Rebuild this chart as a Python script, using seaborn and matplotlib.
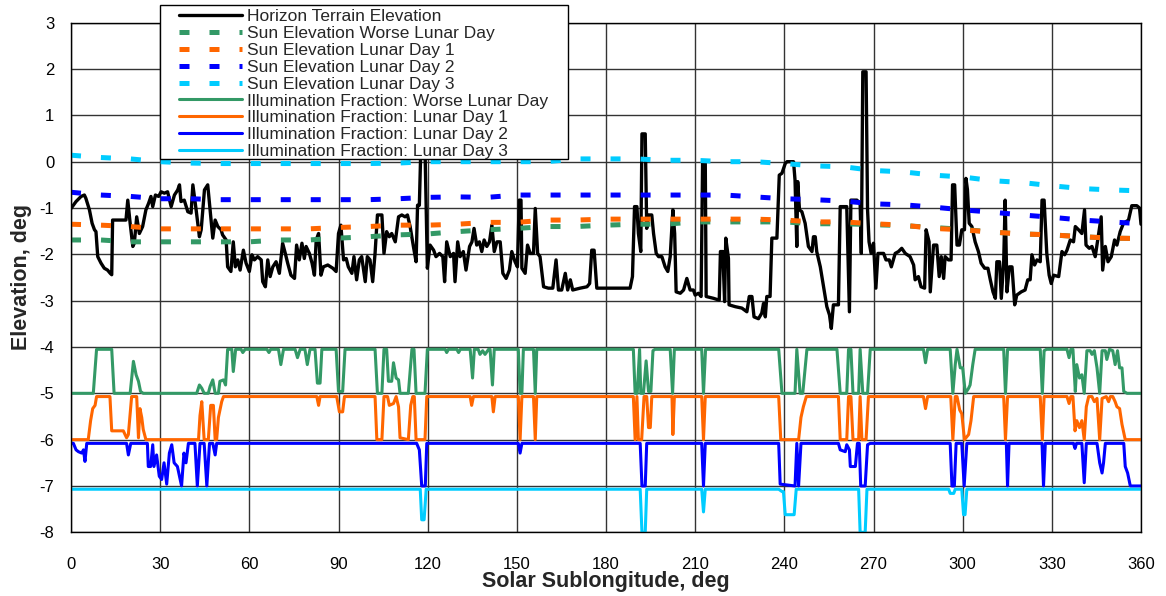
import matplotlib
matplotlib.use("Agg")
import matplotlib.pyplot as plt
from matplotlib.patches import Rectangle
import seaborn as sns
import numpy as np

sns.set_theme(style="white")
plt.rcParams['font.family'] = ['Liberation Sans', 'DejaVu Sans']
plt.rcParams['axes.unicode_minus'] = False

# ---------------- data ----------------
sun_lon = list(range(0, 361, 10))
sun_worse = [-1.69, -1.69, -1.73, -1.73, -1.73, -1.73, -1.73, -1.69, -1.69, -1.65, -1.62, -1.58,
             -1.56, -1.51, -1.47, -1.44, -1.40, -1.40, -1.37, -1.35, -1.35, -1.30, -1.30, -1.30,
             -1.30, -1.34, -1.34, -1.36, -1.38, -1.42, -1.46, -1.52, -1.56, -1.58, -1.62, -1.65, -1.66]
sun_day1 = [-1.35, -1.37, -1.40, -1.45, -1.45, -1.45, -1.45, -1.45, -1.45, -1.42, -1.40, -1.37,
            -1.37, -1.35, -1.31, -1.31, -1.26, -1.26, -1.24, -1.24, -1.24, -1.24, -1.24, -1.24,
            -1.26, -1.30, -1.30, -1.34, -1.37, -1.44, -1.47, -1.52, -1.56, -1.58, -1.62, -1.65, -1.66]
sun_day2 = [-0.66, -0.72, -0.75, -0.80, -0.80, -0.82, -0.82, -0.82, -0.82, -0.82, -0.82, -0.80,
            -0.77, -0.76, -0.77, -0.72, -0.72, -0.72, -0.72, -0.72, -0.72, -0.72, -0.72, -0.76,
            -0.80, -0.82, -0.85, -0.91, -0.93, -0.98, -1.04, -1.09, -1.15, -1.20, -1.26, -1.30, -1.34]
sun_day3 = [0.14, 0.09, 0.06, 0.00, -0.03, -0.04, -0.04, -0.04, -0.04, -0.04, -0.04, -0.03,
            0.00, 0.00, 0.00, 0.00, 0.00, 0.06, 0.06, 0.06, 0.03, 0.03, 0.00, 0.00,
            -0.04, -0.09, -0.11, -0.19, -0.22, -0.29, -0.33, -0.41, -0.45, -0.52, -0.58, -0.61, -0.63]

terrain_lon = [0, 1.7, 3.4, 4.5, 5.0, 6.2, 7.1, 7.9, 8.4, 9.0, 10.1, 11.2, 12.3, 13.2, 13.7, 14.0,
               18.5, 19.1, 19.9, 20.8, 21.3, 22.1, 23.0, 24.1, 25.2, 26.1, 26.9, 27.5, 28.4, 29.5,
               30.3, 31.4, 32.5, 33.7, 34.8, 35.9, 36.5, 37.0, 38.1, 39.3, 40.4, 41.0, 42.1, 43.2,
               43.8, 44.9, 46.0, 46.8, 47.7, 48.5, 49.4, 50.5, 51.0, 52.2, 52.7, 53.8, 54.6, 55.3,
               56.1, 56.9, 58.0, 58.9, 60.0, 60.9, 61.7, 62.8, 64.0, 64.5, 65.4, 66.2, 67.0, 67.9,
               69.0, 70.1, 71.2, 72.1, 72.9, 74.0, 75.2, 75.9, 76.8, 77.7, 78.5, 79.1, 80.2, 81.1,
               81.9, 82.5, 83.3, 84.1, 84.9, 86.4, 88.1, 89.2, 90.0, 90.8, 91.7, 92.6, 93.3, 94.5,
               95.2, 96.1, 97.0, 97.8, 99.0, 99.7, 100.6, 101.5, 102.3, 103.1, 104.6, 105.3, 106.2,
               107.1, 107.9, 109.1, 110.2, 111.3, 112.4, 113.2, 114.1, 115.2, 116.1, 116.6, 117.2,
               117.7, 119.1, 119.9, 120.8, 122.0, 122.8, 124.0, 125.1, 125.7, 126.4, 127.6, 128.7,
               129.2, 130.1, 130.9, 132.0, 132.9, 134.1, 134.9, 135.6, 136.5, 137.4, 138.2, 139.0,
               139.9, 140.8, 141.6, 142.4, 143.3, 144.4, 145.3, 146.4, 147.5, 148.3, 149.4, 150.2,
               150.8, 151.4, 151.7, 152.8, 153.6, 154.5, 155.6, 156.2, 157.0, 157.8, 159.0, 160.6,
               162.1, 163.2, 164.0, 165.1, 166.3, 167.1, 168.0, 168.8, 171.3, 173.6, 174.5, 175.2,
               176.0, 176.9, 188.1, 188.9, 189.6, 190.4, 190.9, 191.7, 192.1, 193.2, 193.7, 194.3,
               195.4, 196.0, 196.9, 197.7, 198.8, 199.9, 200.8, 201.6, 202.5, 203.1, 203.6, 205.0,
               206.1, 207.2, 208.3, 209.4, 210.0, 211.1, 212.0, 212.5, 213.4, 213.7, 216.2, 218.1,
               218.5, 219.3, 219.9, 220.3, 221.2, 221.4, 223.5, 225.7, 227.4, 228.2, 229.1, 229.8,
               231.3, 232.4, 233.0, 233.6, 234.1, 235.2, 235.8, 237.5, 238.3, 239.2, 240.3, 240.9,
               243.1, 243.6, 244.2, 244.5, 245.1, 245.9, 247.0, 248.1, 249.3, 249.8, 250.4, 250.9,
               252.1, 253.2, 254.3, 255.2, 255.8, 256.5, 258.2, 258.8, 261.0, 261.9, 262.4, 264.4,
               265.5, 265.9, 266.4, 267.5, 268.0, 268.5, 269.2, 270.0, 270.8, 271.5, 273.4, 274.2,
               275.3, 276.0, 277.3, 278.4, 279.5, 280.7, 282.3, 283.5, 284.0, 285.1, 286.0, 287.2,
               287.7, 288.7, 289.1, 290.2, 291.3, 292.1, 292.8, 293.6, 294.1, 295.2, 296.1, 296.6,
               297.3, 298.1, 298.9, 299.7, 300.6, 301.1, 301.6, 302.2, 303.1, 304.2, 305.3, 306.2,
               307.4, 308.5, 309.3, 310.2, 311.0, 311.5, 312.4, 313.0, 313.8, 314.3, 314.9, 315.7,
               316.6, 317.5, 318.2, 319.7, 321.0, 321.9, 322.7, 323.3, 324.2, 325.0, 326.1, 326.7,
               327.4, 328.3, 329.1, 329.8, 330.6, 332.3, 333.4, 334.3, 335.1, 336.2, 337.3, 337.9,
               339.0, 340.1, 341.0, 341.5, 342.6, 343.5, 344.6, 345.7, 346.6, 347.1, 348.0, 348.9,
               350.0, 351.1, 351.9, 353.0, 354.1, 355.8, 356.9, 358.6, 359.5, 360.0]
terrain_elev = [-1.01, -0.86, -0.75, -0.72, -0.79, -1.04, -1.33, -1.47, -1.51, -2.05, -2.19, -2.30,
                -2.34, -2.41, -2.44, -1.26, -1.26, -0.83, -1.33, -1.83, -1.76, -1.19, -1.55, -1.40,
                -1.04, -0.90, -0.75, -0.97, -0.72, -0.75, -0.65, -0.68, -0.65, -0.97, -0.72, -0.61,
                -0.50, -0.86, -0.83, -1.08, -1.11, -0.50, -1.04, -1.62, -1.47, -0.61, -0.50, -1.04,
                -1.65, -1.26, -1.40, -1.47, -1.58, -1.69, -2.27, -2.37, -1.73, -2.27, -2.12, -2.34,
                -1.91, -2.19, -2.37, -2.01, -2.12, -2.05, -2.12, -2.59, -2.70, -2.12, -2.48, -2.27,
                -2.16, -2.41, -1.76, -1.98, -2.19, -2.45, -2.52, -1.80, -2.12, -1.76, -2.09, -1.83,
                -1.98, -2.19, -2.45, -1.69, -1.55, -2.45, -2.27, -2.23, -2.30, -2.37, -1.55, -1.37,
                -2.12, -2.09, -2.27, -2.41, -2.05, -2.55, -2.12, -2.05, -2.59, -2.05, -2.12, -2.59,
                -1.98, -1.15, -1.15, -1.98, -1.51, -1.62, -1.55, -1.73, -1.19, -1.15, -1.19, -1.15,
                -1.40, -1.83, -2.16, -0.94, -0.94, 0.30, 0.30, -2.30, -1.80, -1.91, -2.05, -1.98,
                -2.05, -2.59, -1.73, -2.05, -1.98, -2.59, -1.73, -2.05, -1.94, -2.34, -1.83, -1.73,
                -1.44, -1.80, -1.73, -1.94, -1.69, -1.83, -1.73, -1.37, -1.94, -1.73, -1.73, -2.41,
                -2.52, -2.34, -1.94, -2.16, -2.27, -0.83, -0.83, -2.30, -2.41, -1.80, -1.98, -1.98,
                -1.01, -1.98, -2.05, -2.70, -2.73, -2.73, -2.12, -2.77, -2.77, -2.41, -2.77, -2.55,
                -2.77, -2.73, -2.70, -2.63, -1.91, -1.91, -2.73, -2.73, -2.48, -0.97, -0.97, -1.55,
                -1.94, 0.60, 0.60, -1.44, -1.15, -1.15, -1.55, -1.98, -2.05, -2.05, -2.27, -2.37,
                -2.05, -1.04, -1.55, -2.81, -2.84, -2.77, -2.52, -2.77, -2.77, -2.88, -2.84, -2.91,
                0.00, 0.00, -2.91, -2.95, -2.99, -1.94, -1.94, -3.02, -1.65, -2.09, -3.09, -3.13,
                -3.16, -3.24, -2.91, -2.91, -3.35, -3.39, -3.27, -3.06, -3.35, -2.91, -2.91, -1.65,
                -1.65, -0.29, -0.25, -0.04, 0.00, 0.00, -0.40, -1.83, -0.43, -1.04, -1.08, -1.33,
                -1.83, -1.94, -1.62, -1.62, -1.94, -2.27, -2.70, -3.13, -3.31, -3.60, -3.09, -3.09,
                -0.97, -0.97, -3.24, -0.83, -0.83, -0.90, -1.98, 1.94, 1.94, -1.04, -1.73, -1.98,
                -1.76, -2.73, -1.98, -1.98, -2.12, -2.12, -2.27, -1.98, -1.94, -1.87, -1.98, -2.05,
                -2.23, -2.55, -2.48, -2.70, -2.73, -1.47, -1.73, -2.81, -1.80, -1.80, -2.48, -2.05,
                -2.52, -2.05, -2.12, -2.12, -0.50, -0.50, -1.80, -1.80, -1.47, -1.47, -0.36, -0.60,
                -1.33, -1.40, -1.73, -1.94, -2.19, -2.30, -2.30, -2.55, -2.81, -2.95, -2.16, -2.16,
                -2.95, -2.16, -0.83, -2.81, -2.27, -2.27, -3.09, -2.88, -2.81, -2.77, -2.55, -2.55,
                -2.01, -2.23, -2.12, -2.16, -0.83, -0.83, -1.98, -2.45, -2.63, -2.45, -2.48, -1.94,
                -2.01, -1.91, -1.69, -1.73, -1.40, -1.47, -1.55, -1.04, -1.80, -1.87, -1.83, -2.05,
                -1.58, -1.19, -2.34, -1.83, -2.16, -2.05, -1.69, -1.80, -1.51, -1.33, -1.26, -0.95,
                -0.95, -1.00, -1.35]

# illumination fractions (plotted offset below the elevation curves)
illum_offsets = [-5, -6, -7, -8]

illum_worse_lon = [0, 7.5, 8.6, 13.7, 14.5, 19.9, 21.0, 21.9, 22.7, 23.4, 24.3, 42.3, 43.2, 44.0,
                   44.8, 46.2, 46.8, 47.7, 48.5, 49.6, 50.1, 51.3, 52.0, 52.7, 54.1, 54.6, 55.4,
                   57.2, 57.8, 58.6, 65.9, 66.6, 67.2, 69.8, 70.6, 71.5, 75.4, 76.2, 77.1, 78.7,
                   79.5, 80.4, 82.1, 82.9, 83.8, 84.4, 89.2, 90.0, 91.4, 92.2, 102.3, 103.1, 104.6,
                   105.3, 106.2, 106.8, 107.9, 108.5, 109.4, 110.2, 110.7, 113.5, 114.7, 115.4,
                   116.1, 119.1, 119.9, 125.9, 126.4, 127.0, 129.8, 130.4, 131.0, 134.3, 135.1,
                   135.7, 137.0, 137.6, 138.5, 139.3, 140.5, 141.0, 141.8, 142.4, 150.5, 151.1,
                   151.7, 152.2, 155.6, 156.2, 156.7, 189.2, 189.8, 190.5, 191.3, 191.7, 192.6,
                   193.5, 194.3, 195.1, 195.8, 196.5, 201.6, 202.4, 203.0, 212.2, 212.8, 213.5,
                   238.1, 239.2, 243.6, 244.2, 245.3, 246.2, 247.6, 257.7, 258.8, 261.0, 261.6,
                   262.4, 263.1, 265.0, 265.5, 266.4, 268.0, 268.9, 286.8, 287.5, 288.2, 295.8,
                   296.7, 297.5, 298.1, 299.2, 300.0, 300.9, 302.0, 302.5, 303.4, 304.2, 313.8,
                   314.4, 315.1, 326.1, 326.8, 327.4, 328.2, 335.1, 335.8, 336.4, 337.1, 337.9,
                   338.4, 339.3, 340.1, 340.9, 341.8, 342.9, 343.5, 344.3, 345.2, 346.1, 346.9,
                   348.0, 348.5, 349.4, 350.5, 351.3, 352.1, 352.8, 353.6, 354.2, 355.3, 360.0]
illum_worse = [0, 0, 0.95, 0.95, 0, 0, 0.69, 0.40, 0.26, 0.04, 0, 0, 0.18, 0.11,
               0, 0, 0.15, 0.29, 0, 0, 0.26, 0.29, 0.18, 0.95, 0.95, 0.47, 0.95,
               0.95, 0.88, 0.95, 0.95, 0.88, 0.95, 0.95, 0.62, 0.95, 0.95, 0.77, 0.95, 0.95,
               0.62, 0.95, 0.95, 0.22, 0.22, 0.95, 0.95, 0.04, 0.04, 0.95, 0.95, 0, 0,
               0.95, 0.95, 0.26, 0.26, 0.66, 0.33, 0.29, 0, 0, 0.95, 0.95,
               0, 0, 0.95, 0.95, 0.88, 0.95, 0.95, 0.88, 0.95, 0.95, 0.33,
               0.95, 0.95, 0.84, 0.92, 0.84, 0.95, 0.95, 0.18, 0.95, 0.95, 0,
               0, 0.95, 0.95, 0, 0.95, 0.95, 0, 0, 0.95, 0, 0,
               0.70, 0.04, 0.04, 0.92, 0.95, 0.95, 0, 0.95, 0.95, 0, 0.95,
               0.95, 0, 0, 0.95, 0, 0, 0.95, 0.95, 0, 0, 0.95,
               0.95, 0, 0, 0.95, 0, 0, 0.95, 0.95, 0.66, 0.95, 0.95,
               0, 0.62, 0.95, 0.55, 0.55, 0, 0.11, 0.18, 0.62, 0.95, 0.95,
               0, 0.95, 0.95, 0, 0.92, 0.95, 0.95, 0.77, 0.95, 0.95, 0.04,
               0.62, 0.33, 0.40, 0, 0.92, 0.92, 0.84, 0.92, 0.55, 0, 0.92,
               0.92, 0.73, 0.95, 0.92, 0.62, 0.92, 0.55, 0.55, 0.04, 0, 0]

illum_day1_lon = [0, 5.8, 6.6, 7.3, 8.1, 8.6, 13.1, 13.7, 17.6, 18.7, 19.3, 20.4, 22.1, 22.7, 23.2,
                  23.8, 24.3, 25.2, 42.9, 43.4, 44.0, 44.8, 46.2, 47.0, 47.9, 48.5, 49.0, 49.6,
                  50.7, 51.3, 82.7, 83.3, 83.8, 89.4, 90.3, 91.4, 92.0, 102.3, 102.9, 104.6, 105.3,
                  106.5, 107.1, 108.5, 109.4, 110.2, 110.7, 113.5, 114.3, 115.0, 115.5, 116.1,
                  119.1, 119.7, 134.3, 134.8, 135.4, 141.6, 142.1, 142.7, 150.5, 151.1, 151.7,
                  155.6, 156.2, 156.7, 189.2, 189.8, 190.4, 190.9, 192.0, 192.8, 193.7, 194.3,
                  194.9, 195.4, 202.2, 202.5, 203.0, 212.2, 212.8, 213.4, 238.1, 238.8, 244.8,
                  245.6, 246.4, 247.4, 258.2, 258.8, 261.0, 261.6, 262.4, 263.1, 265.0, 265.5,
                  266.1, 267.5, 268.3, 286.8, 287.5, 288.2, 296.0, 296.7, 297.5, 298.1, 299.0,
                  299.7, 300.6, 302.0, 302.8, 303.7, 313.8, 314.4, 315.1, 326.1, 326.8, 327.4,
                  335.1, 335.8, 336.4, 337.1, 337.8, 338.4, 339.3, 340.1, 340.9, 341.6, 342.4,
                  343.5, 344.3, 345.2, 346.1, 346.9, 348.3, 349.1, 349.7, 350.5, 351.3, 351.9,
                  352.8, 353.6, 354.7, 360.0]
illum_day1 = [0, 0, 0.41, 0.67, 0.74, 0.93, 0.93, 0.19, 0.19, 0.04, 0.11, 0.93, 0.93, 0.04, 0.67,
              0.48, 0.22, 0, 0, 0.52, 0.82, 0, 0, 0.74, 0.74, 0, 0, 0.48,
              0.82, 0.93, 0.93, 0.74, 0.93, 0.93, 0.60, 0.60, 0.93, 0.93, 0, 0, 0.93,
              0.93, 0.74, 0.78, 0.93, 0.71, 0.04, 0, 0.74, 0.93, 0.93, 0,
              0, 0.93, 0.93, 0.74, 0.93, 0.93, 0.60, 0.93, 0.93, 0, 0.93,
              0.93, 0, 0.93, 0.93, 0, 0.93, 0, 0, 0.93, 0.93, 0.26,
              0.26, 0.93, 0.93, 0.11, 0.93, 0.93, 0, 0.93, 0.93, 0, 0,
              0.48, 0.71, 0.93, 0.93, 0, 0, 0.93, 0.93, 0, 0, 0.93,
              0, 0, 0.93, 0.93, 0.67, 0.93, 0.93, 0, 0.93, 0.93, 0.64,
              0.56, 0, 0.11, 0.41, 0.93, 0.93, 0, 0.93, 0.93, 0, 0.93,
              0.93, 0.78, 0.93, 0.93, 0.19, 0.41, 0.26, 0.41, 0, 0.71, 0.93,
              0.93, 0.82, 0.89, 0, 0.89, 0.93, 0.82, 0.93, 0.93, 0.82, 0.71,
              0.67, 0.33, 0, 0]

illum_day2_lon = [0, 0.8, 1.7, 2.5, 3.6, 4.2, 4.7, 5.3, 18.7, 19.3, 20.1, 25.7, 26.0, 26.8, 27.5,
                  27.9, 28.8, 29.7, 30.5, 31.3, 32.2, 33.1, 33.9, 34.7, 35.8, 36.5, 37.2, 38.0,
                  38.7, 39.5, 41.7, 42.5, 43.4, 44.8, 45.7, 46.6, 47.7, 48.5, 49.0, 116.3, 117.2,
                  118.0, 119.2, 119.7, 150.5, 151.1, 151.7, 191.5, 192.1, 193.2, 193.7, 212.2,
                  212.8, 213.4, 238.1, 238.6, 243.6, 244.2, 244.8, 245.6, 258.2, 258.8, 260.5,
                  261.0, 261.9, 262.2, 263.9, 264.6, 265.2, 265.7, 267.2, 268.0, 268.9, 295.8,
                  296.4, 297.2, 297.8, 299.7, 300.5, 301.4, 314.7, 315.1, 315.6, 326.7, 327.2,
                  327.8, 337.3, 337.8, 338.3, 340.1, 340.9, 341.6, 345.2, 346.1, 346.9, 347.4,
                  348.0, 354.2, 354.7, 355.5, 356.4, 360.0]
illum_day2 = [0.92, 0.92, 0.78, 0.74, 0.71, 0.78, 0.53, 0.92, 0.92, 0.67, 0.92, 0.92, 0.42, 0.42, 0.89,
              0.42, 0.67, 0.21, 0.14, 0.50, 0.04, 0.71, 0.89, 0.50, 0.42, 0.21, 0, 0.71,
              0.50, 0.92, 0.92, 0, 0.92, 0.92, 0, 0.92, 0.92, 0.67, 0.92, 0.92, 0.78,
              0, 0, 0.92, 0.92, 0.71, 0.92, 0.92, 0, 0, 0.92, 0.92,
              0, 0.92, 0.92, 0.04, 0, 0.92, 0, 0.92, 0.92, 0.78, 0.74,
              0.89, 0.78, 0.42, 0.42, 0.92, 0.92, 0, 0, 0.89, 0.92, 0.92,
              0, 0, 0.92, 0.92, 0, 0.92, 0.92, 0, 0.92, 0.92, 0,
              0.92, 0.92, 0.81, 0.92, 0.92, 0.07, 0.92, 0.92, 0.50, 0.28, 0.50,
              0.92, 0.92, 0.42, 0.28, 0, 0]

illum_day3_lon = [0, 117.5, 118.0, 118.8, 119.5, 191.5, 192.1, 193.2, 193.7, 212.2, 212.8, 213.4,
                  238.1, 239.2, 239.7, 240.3, 243.3, 244.0, 265.0, 265.5, 267.2, 267.8, 295.3,
                  295.8, 297.0, 297.5, 299.7, 300.3, 300.8, 301.4, 360.0]
illum_day3 = [0.93, 0.93, 0.27, 0.27, 0.93, 0.93, 0, 0, 0.93, 0.93, 0.44, 0.93,
              0.93, 0.88, 0.88, 0.38, 0.38, 0.93, 0.93, 0, 0, 0.93, 0.93,
              0.84, 0.84, 0.93, 0.93, 0.38, 0.38, 0.93, 0.93]

x_ticks = list(range(0, 361, 30))
y_ticks = list(range(-8, 4))

labels = ["Horizon Terrain Elevation",
          "Sun Elevation Worse Lunar Day", "Sun Elevation Lunar Day 1",
          "Sun Elevation Lunar Day 2", "Sun Elevation Lunar Day 3",
          "Illumination Fraction: Worse Lunar Day", "Illumination Fraction: Lunar Day 1",
          "Illumination Fraction: Lunar Day 2", "Illumination Fraction: Lunar Day 3"]

GREEN, ORANGE, BLUE, CYAN = "#339966", "#FF6600", "#0000FF", "#00CCFF"

# ---------------- figure ----------------
W, H = 1166, 596
fig = plt.figure(figsize=(W / 100, H / 100), dpi=100)
x0, x1, y0, y1 = 71, 1141, 22.7, 532.3
ax = fig.add_axes([x0 / W, 1 - y1 / H, (x1 - x0) / W, (y1 - y0) / H])

sns.lineplot(x=terrain_lon, y=terrain_elev, ax=ax, color="black", lw=2.4,
             estimator=None, sort=False, label=labels[0])

dash = (0, (2.0, 4.0))
for vals, col, lab in zip([sun_worse, sun_day1, sun_day2, sun_day3],
                          [GREEN, ORANGE, BLUE, CYAN], labels[1:5]):
    sns.lineplot(x=sun_lon, y=vals, ax=ax, color=col, lw=3.6, linestyle=dash,
                 estimator=None, sort=False, label=lab)

illum_lons = [illum_worse_lon, illum_day1_lon, illum_day2_lon, illum_day3_lon]
illum_vals = [illum_worse, illum_day1, illum_day2, illum_day3]
for lon, frac, off, col, lab in zip(illum_lons, illum_vals, illum_offsets,
                                    [GREEN, ORANGE, BLUE, CYAN], labels[5:]):
    sns.lineplot(x=lon, y=np.array(frac) + off, ax=ax, color=col, lw=2.2,
                 estimator=None, sort=False, label=lab)

ax.set_xlim(0, 360)
ax.set_ylim(-8, 3)
ax.set_xticks(x_ticks)
ax.set_yticks(y_ticks)
ax.grid(True, color="#333333", lw=1.0)
ax.set_axisbelow(True)
for s in ax.spines.values():
    s.set_color("black")
    s.set_linewidth(1.0)
ax.tick_params(axis="both", direction="out", length=5, width=1, color="black",
               labelsize=12, labelcolor="black")
ax.tick_params(axis="x", pad=13)
ax.tick_params(axis="y", pad=7)

ax.set_xlabel("Solar Sublongitude, deg", fontsize=15.5, fontweight="bold")
ax.set_ylabel("Elevation, deg", fontsize=15.5, fontweight="bold")
ax.xaxis.set_label_coords(0.5, (y1 - 582) / (y1 - y0))
ax.xaxis.label.set_va("center")
ax.yaxis.set_label_coords((22 - x0) / (x1 - x0), 0.5)
ax.yaxis.label.set_va("center")

# legend box (frame drawn separately to match the reference's padding)
box = Rectangle((160 / W, 1 - 159 / H), (568 - 160) / W, (159 - 4.6) / H,
                transform=fig.transFigure, facecolor="white", edgecolor="black",
                lw=1.0, zorder=4.9, clip_on=False)
ax.add_artist(box)

handles, labs = ax.get_legend_handles_labels()
leg = ax.legend(handles, labs, loc="upper left",
                bbox_to_anchor=(176 / W, 1 - 5.5 / H), bbox_transform=fig.transFigure,
                borderaxespad=0, fontsize=12.5, frameon=False,
                handlelength=3.6, handletextpad=0.3,
                labelspacing=0.1, borderpad=0.2)
leg.set_zorder(5)

fig.savefig("out.png", dpi=100)
